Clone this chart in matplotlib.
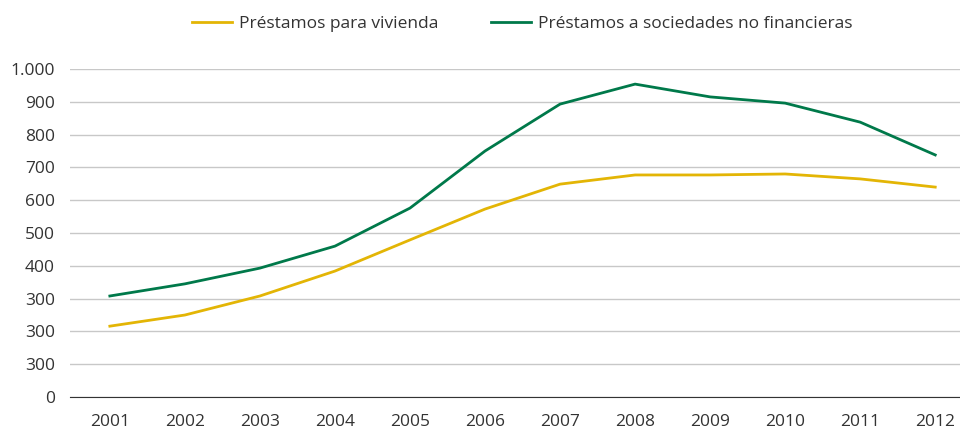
import matplotlib
matplotlib.use("Agg")
import matplotlib.pyplot as plt

plt.rcParams['font.family'] = ['Open Sans', 'DejaVu Sans']

years = list(range(2001, 2013))
vivienda = [216, 250, 308, 384, 479, 573, 649, 677, 677, 680, 665, 640]
sociedades = [308, 345, 393, 460, 576, 750, 893, 954, 915, 896, 838, 738]
ytick_vals = [0, 100, 200, 300, 400, 500, 600, 700, 800, 900, 1000]
ytick_labels = ['0', '300', '300', '300', '400', '500', '600', '700', '800', '900', '1.000']

fig = plt.figure(figsize=(9.6, 4.3), dpi=100)
ax = fig.add_axes([0.073, 0.0767, 0.927, 0.7628])

ax.plot(years, vivienda, color='#E3B505', lw=2, label='Préstamos para vivienda')
ax.plot(years, sociedades, color='#00794A', lw=2, label='Préstamos a sociedades no financieras')

ax.set_xlim(2000.47, 2012.33)
ax.set_ylim(0, 1000)
ax.set_xticks(years)
ax.set_xticklabels([str(y) for y in years])
ax.set_yticks(ytick_vals)
ax.set_yticklabels(ytick_labels)
ax.tick_params(length=0, labelsize=12.5, colors='#333333')
ax.tick_params(axis='x', pad=12)
ax.tick_params(axis='y', pad=11)
ax.grid(axis='y', color='#c8c8c8', lw=1)
ax.set_axisbelow(True)
for s in ['top', 'right', 'left']:
    ax.spines[s].set_visible(False)
ax.spines['bottom'].set_color('#333333')

fig.legend(loc='center', bbox_to_anchor=(0.544, 0.945), ncol=2, frameon=False,
           fontsize=12.5, handlelength=2.3, handletextpad=0.4, columnspacing=3.0,
           labelcolor='#333333')

fig.savefig('out.png', dpi=100)
